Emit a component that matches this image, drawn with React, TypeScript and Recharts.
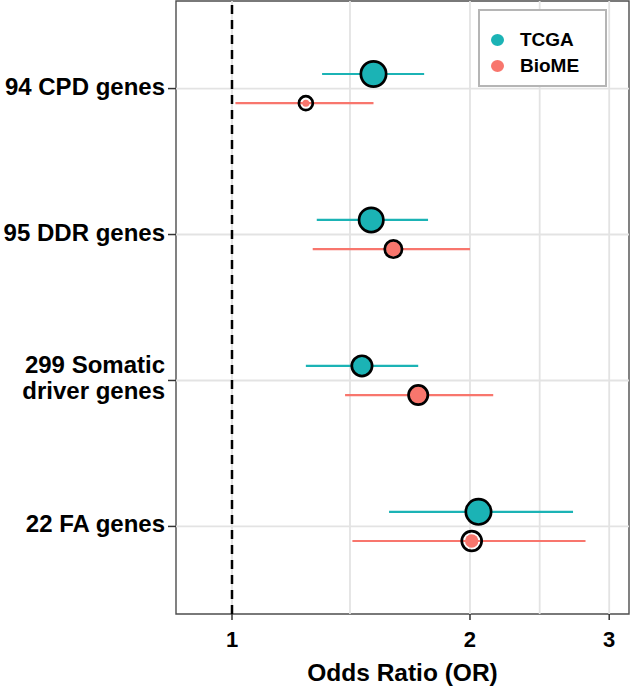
import React from "react";
import {
  ScatterChart,
  Scatter,
  XAxis,
  YAxis,
  ErrorBar,
  ReferenceLine,
  ReferenceArea,
  Legend,
} from "recharts";

// gene sets, top to bottom
const categories = ["94 CPD genes", "95 DDR genes", "299 Somatic\ndriver genes", "22 FA genes"];
const seriesNames = ["TCGA", "BioME"];

// TCGA: odds ratio, 95% CI, point sizes (outer ring / inner dot)
const tcgaOR = [1.51, 1.5, 1.46, 2.05];
const tcgaLower = [1.3, 1.28, 1.24, 1.58];
const tcgaUpper = [1.75, 1.77, 1.72, 2.7];
const tcgaOuter = [7, 6.75, 5.75, 7];
const tcgaInner = [6.15, 5.9, 5, 6.15];

// BioME
const biomeOR = [1.24, 1.6, 1.72, 2.01];
const biomeLower = [1.01, 1.265, 1.39, 1.42];
const biomeUpper = [1.51, 2.0, 2.14, 2.8];
const biomeOuter = [4.15, 5, 5.5, 5.65];
const biomeInner = [1.75, 3.75, 4.65, 3.35];

const xTicks = [1, 2, 3];
const xGrid = [1, 1.41, 2, 2.45, 3];

const TEAL = "#1BB3B5";
const RED = "#F8766D";
const FONT = "'Liberation Sans', Arial, Helvetica, sans-serif";
const X_DOMAIN = [0.8495, 3.178];
const Y_DOMAIN = [0.4, 4.6];
const DODGE = 0.1;
const SIZE_PX = 2;

const makeRows = (
  or: number[],
  lo: number[],
  hi: number[],
  outer: number[],
  inner: number[],
  shift: number
) =>
  categories.map((c, i) => ({
    cat: c,
    pos: i + 1 + shift,
    or: or[i],
    err: [or[i] - lo[i], hi[i] - or[i]],
    outer: outer[i],
    inner: inner[i],
  }));

const tcgaRows = makeRows(tcgaOR, tcgaLower, tcgaUpper, tcgaOuter, tcgaInner, -DODGE);
const biomeRows = makeRows(biomeOR, biomeLower, biomeUpper, biomeOuter, biomeInner, DODGE);

const marker = (fill: string) => (props: any) => {
  const { cx, cy, payload } = props;
  const ro = payload.outer * SIZE_PX;
  const ri = payload.inner * SIZE_PX;
  return (
    <g>
      <circle cx={cx} cy={cy} r={ri} fill={fill} />
      <circle cx={cx} cy={cy} r={ro - 1.35} fill="none" stroke="#000" strokeWidth={2.7} />
    </g>
  );
};

const YTick = (props: any) => {
  const { x, y, payload } = props;
  const lines = categories[Math.round(payload.value) - 1].split("\n");
  const lh = 26;
  const first = -((lines.length - 1) * lh) / 2 + 6;
  return (
    <text x={x} y={y} textAnchor="end" fontFamily={FONT} fontWeight="bold" fontSize={24} fill="#000">
      {lines.map((l, i) => (
        <tspan key={i} x={x} dy={i === 0 ? first : lh}>
          {l}
        </tspan>
      ))}
    </text>
  );
};

const XTick = (props: any) => {
  const { x, y, payload } = props;
  return (
    <text x={x} y={y} dy={25} textAnchor="middle" fontFamily={FONT} fontWeight="bold" fontSize={22} fill="#000">
      {payload.value}
    </text>
  );
};

const LegendBox = (props: any) => {
  const items = [...(props.payload || [])].sort(
    (a: any, b: any) => seriesNames.indexOf(a.value) - seriesNames.indexOf(b.value)
  );
  return (
    <div
      style={{
        position: "relative",
        width: 129,
        height: 78,
        boxSizing: "border-box",
        border: "2px solid #b5b5b5",
        background: "#fff",
        fontFamily: FONT,
        fontWeight: "bold",
        fontSize: 19,
      }}
    >
      {items.map((it: any, i: number) => (
        <div key={it.value} style={{ position: "absolute", left: 0, top: 19 + i * 26, height: 22, width: 125 }}>
          <span
            style={{
              position: "absolute",
              left: 11,
              top: 4,
              width: 13,
              height: 12,
              borderRadius: "50%",
              background: it.color,
            }}
          />
          <span style={{ position: "absolute", left: 40, top: 0, lineHeight: "20px", color: "#000" }}>{it.value}</span>
        </div>
      ))}
    </div>
  );
};

export default function App() {
  return (
    <div style={{ position: "absolute", left: 0, top: 0, width: 632, height: 687, background: "#fff" }}>
      <ScatterChart width={632} height={687} margin={{ top: 1, right: 3, left: 0, bottom: 0 }}>
        {xGrid.map((v) => (
          <ReferenceLine key={"gx" + v} x={v} stroke="#e3e3e3" strokeWidth={1.8} />
        ))}
        {categories.map((c, i) => (
          <ReferenceLine key={"gy" + i} y={i + 1} stroke="#e3e3e3" strokeWidth={1.8} />
        ))}
        <ReferenceArea
          x1={X_DOMAIN[0]}
          x2={X_DOMAIN[1]}
          y1={Y_DOMAIN[0]}
          y2={Y_DOMAIN[1]}
          fill="none"
          fillOpacity={0}
          stroke="#4d4d4d"
          strokeWidth={1.4}
        />
        <ReferenceLine x={1} stroke="#000" strokeWidth={2.5} strokeDasharray="9 6" />
        <XAxis
          type="number"
          dataKey="or"
          scale="log"
          domain={X_DOMAIN}
          allowDataOverflow
          ticks={xTicks}
          height={73}
          axisLine={false}
          tickLine={{ stroke: "#333", strokeWidth: 1.5 }}
          tickSize={6}
          tickMargin={2}
          tick={<XTick />}
          interval={0}
          label={{
            value: "Odds Ratio (OR)",
            position: "insideBottom",
            offset: 6,
            style: { fontFamily: FONT, fontWeight: "bold", fontSize: 24.5, fill: "#000" },
          }}
        />
        <YAxis
          type="number"
          dataKey="pos"
          domain={Y_DOMAIN}
          reversed
          allowDataOverflow
          ticks={[1, 2, 3, 4]}
          width={176}
          axisLine={false}
          tickLine={{ stroke: "#333", strokeWidth: 1.5 }}
          tickSize={8}
          tickMargin={3}
          tick={<YTick />}
          interval={0}
        />
        <Legend
          layout="vertical"
          align="center"
          verticalAlign="middle"
          wrapperStyle={{ position: "absolute", left: 478, top: 9, width: 129, height: 78 }}
          content={<LegendBox />}
        />
        <Scatter name="TCGA" data={tcgaRows} fill={TEAL} shape={marker(TEAL)} isAnimationActive={false}>
          <ErrorBar dataKey="err" direction="x" width={0} stroke={TEAL} strokeWidth={2.2} isAnimationActive={false} />
        </Scatter>
        <Scatter name="BioME" data={biomeRows} fill={RED} shape={marker(RED)} isAnimationActive={false}>
          <ErrorBar dataKey="err" direction="x" width={0} stroke={RED} strokeWidth={2.2} isAnimationActive={false} />
        </Scatter>
      </ScatterChart>
    </div>
  );
}
